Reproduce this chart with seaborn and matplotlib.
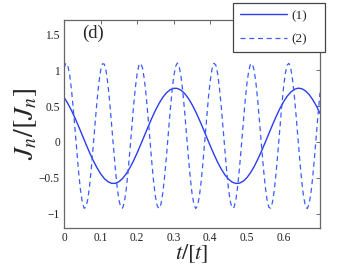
import matplotlib
matplotlib.use("Agg")
import matplotlib.pyplot as plt
import seaborn as sns

# values
t1 = [0.00, 0.01, 0.02, 0.03, 0.04, 0.05, 0.06, 0.07, 0.08, 0.09,
      0.10, 0.11, 0.12, 0.13, 0.14, 0.15, 0.16, 0.17, 0.18, 0.19,
      0.20, 0.21, 0.22, 0.23, 0.24, 0.25, 0.26, 0.27, 0.28, 0.29,
      0.30, 0.31, 0.32, 0.33, 0.34, 0.35, 0.36, 0.37, 0.38, 0.39,
      0.40, 0.41, 0.42, 0.43, 0.44, 0.45, 0.46, 0.47, 0.48, 0.49,
      0.50, 0.51, 0.52, 0.53, 0.54, 0.55, 0.56, 0.57, 0.58, 0.59,
      0.60, 0.61, 0.62, 0.63, 0.64, 0.65, 0.66, 0.67, 0.68, 0.69, 0.70]
j1 = [0.622, 0.539, 0.442, 0.332, 0.214, 0.091, -0.032, -0.151, -0.262, -0.360,
      -0.444, -0.510, -0.554, -0.577, -0.577, -0.554, -0.510, -0.444, -0.360, -0.262,
      -0.151, -0.032, 0.091, 0.214, 0.332, 0.442, 0.539, 0.622, 0.685, 0.728,
      0.748, 0.746, 0.721, 0.674, 0.607, 0.521, 0.421, 0.309, 0.190, 0.066,
      -0.056, -0.174, -0.283, -0.379, -0.459, -0.520, -0.561, -0.579, -0.574, -0.547,
      -0.498, -0.429, -0.342, -0.240, -0.128, -0.007, 0.116, 0.238, 0.355, 0.463,
      0.557, 0.636, 0.695, 0.734, 0.750, 0.743, 0.713, 0.662, 0.591, 0.502, 0.399]

t2 = [round(0.005 * k, 3) for k in range(141)]
j2 = [1.031, 1.098, 1.069, 0.946, 0.741, 0.473, 0.168, -0.144, -0.435, -0.676,
      -0.845, -0.925, -0.908, -0.797, -0.601, -0.340, -0.039, 0.274, 0.570, 0.819,
      0.998, 1.090, 1.086, 0.986, 0.801, 0.547, 0.250, -0.064, -0.363, -0.620,
      -0.809, -0.913, -0.922, -0.835, -0.659, -0.413, -0.120, 0.193, 0.496, 0.760,
      0.959, 1.075, 1.096, 1.021, 0.857, 0.619, 0.330, 0.017, -0.288, -0.559,
      -0.768, -0.895, -0.929, -0.866, -0.713, -0.483, -0.199, 0.112, 0.420, 0.697,
      0.915, 1.054, 1.100, 1.050, 0.907, 0.686, 0.408, 0.099, -0.211, -0.493,
      -0.720, -0.870, -0.929, -0.892, -0.760, -0.549, -0.277, 0.030, 0.342, 0.630,
      0.865, 1.026, 1.097, 1.072, 0.952, 0.750, 0.485, 0.181, -0.132, -0.424,
      -0.668, -0.840, -0.923, -0.911, -0.803, -0.611, -0.352, -0.052, 0.262, 0.559,
      0.810, 0.992, 1.088, 1.088, 0.992, 0.810, 0.559, 0.262, -0.052, -0.352,
      -0.611, -0.803, -0.911, -0.923, -0.840, -0.668, -0.424, -0.132, 0.181, 0.485,
      0.750, 0.952, 1.072, 1.097, 1.026, 0.865, 0.630, 0.342, 0.030, -0.277,
      -0.549, -0.760, -0.892, -0.929, -0.870, -0.720, -0.493, -0.211, 0.099, 0.408,
      0.686]

xticks = [0, 0.1, 0.2, 0.3, 0.4, 0.5, 0.6]
yticks = [-1, -0.5, 0, 0.5, 1, 1.5]
xtick_labels = ["0", "0.1", "0.2", "0.3", "0.4", "0.5", "0.6"]
ytick_labels = ["\u22121", "\u22120.5", "0", "0.5", "1", "1.5"]

sns.set_style("white")
plt.rcParams['font.family'] = ['Liberation Serif', 'DejaVu Serif']
plt.rcParams['mathtext.fontset'] = 'stix'

fig = plt.figure(figsize=(3.54, 2.67), dpi=100)
ax = fig.add_axes([0.181, 0.146, 0.723, 0.779])

sns.lineplot(x=t1, y=j1, ax=ax, color='#2a3cf0', lw=1.0, label='(1)')
sns.lineplot(x=t2, y=j2, ax=ax, color='#3a5cff', lw=0.9, label='(2)',
             linestyle=(0, (4, 3)))

ax.set_xlim(0, 0.7)
ax.set_ylim(-1.2, 1.7)
ax.set_xticks(xticks)
ax.set_xticklabels(xtick_labels)
ax.set_yticks(yticks)
ax.set_yticklabels(ytick_labels)
ax.tick_params(direction='in', length=3, width=0.6, color='#555555',
               labelsize=8.3, labelcolor='#222222', top=True, right=True, pad=3)
for s in ax.spines.values():
    s.set_color('#666666')
    s.set_linewidth(0.9)

ax.set_xlabel('$t/[t]$', fontsize=16, labelpad=-1)
ax.set_ylabel('$J_n/[J_n]$', fontsize=20, labelpad=0)
ax.text(0.08, 1.52, '(d)', fontsize=13.5, ha='center', va='center')

leg = ax.legend(loc='upper left', bbox_to_anchor=(0.66, 0.841, 0.36, 0.241),
                mode='expand', fontsize=9.5, handlelength=3.6, frameon=True,
                fancybox=False, borderaxespad=0, labelspacing=0.85,
                handletextpad=0.3, borderpad=0.5)
leg.get_frame().set_edgecolor('#444444')
leg.get_frame().set_linewidth(0.9)
leg.get_frame().set_alpha(1)

fig.savefig('out.png', dpi=100)
